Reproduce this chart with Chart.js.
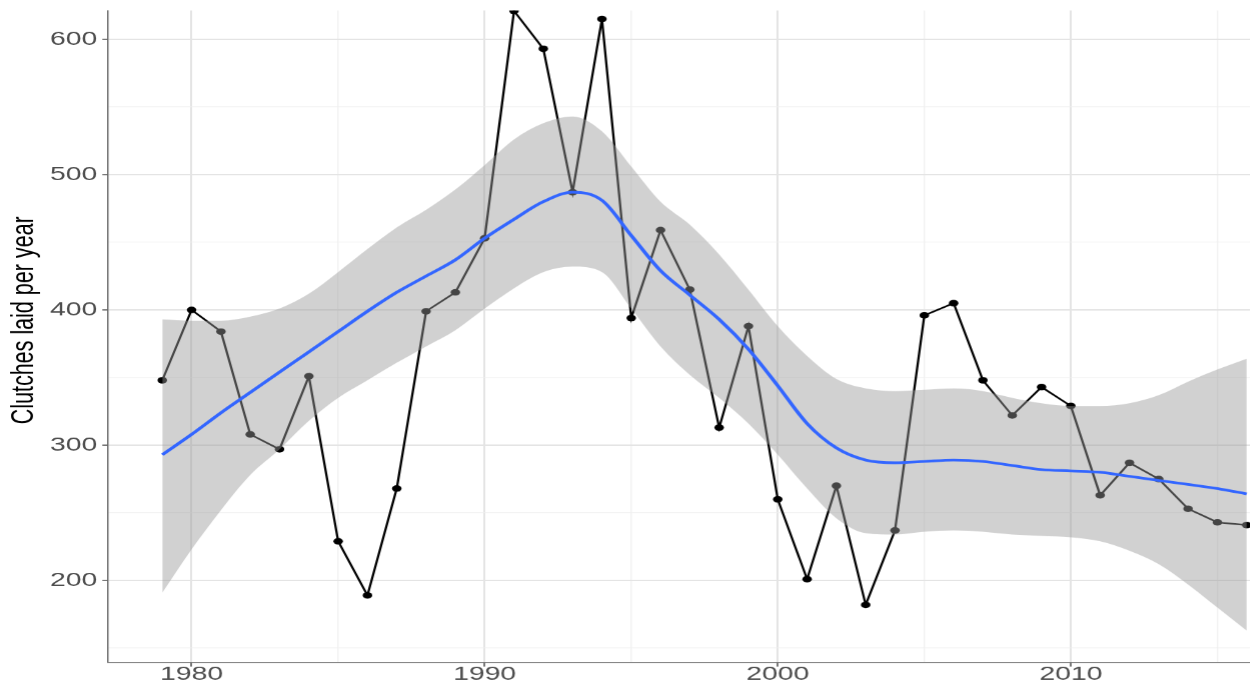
<!DOCTYPE html>
<html>
<head>
<meta charset="utf-8">
<title>Clutches laid per year</title>
<script src="https://cdn.jsdelivr.net/npm/chart.js@4.4.1/dist/chart.umd.min.js"></script>
<style>
    html, body { margin: 0; padding: 0; background: #fff; overflow: hidden; }
    /* the source figure is a ggplot export stretched sideways, so draw it narrow and stretch it;
       the canvas is a few px wider than the view because Chart.js keeps a small right gap */
    #wrap { position: absolute; left: 0; top: 0; width: 866px; height: 686px;
            transform: scaleX(1.4501); transform-origin: 0 0; }
</style>
</head>
<body>
<div id="wrap"><canvas id="clutchChart" width="866" height="686"></canvas></div>
<script>
const years = [
    1979, 1980, 1981, 1982, 1983, 1984, 1985, 1986, 1987, 1988,
    1989, 1990, 1991, 1992, 1993, 1994, 1995, 1996, 1997, 1998,
    1999, 2000, 2001, 2002, 2003, 2004, 2005, 2006, 2007, 2008,
    2009, 2010, 2011, 2012, 2013, 2014, 2015, 2016
];
const clutches = [
    348, 400, 384, 308, 297, 351, 229, 189, 268, 399,
    413, 453, 621, 593, 487, 615, 394, 459, 415, 313,
    388, 260, 201, 270, 182, 237, 396, 405, 348, 322,
    343, 329, 263, 287, 275, 253, 243, 241
];
// loess fit and its confidence band
const smoothFit = [
    293, 308, 324, 339, 354, 369, 384, 399, 413, 425,
    437, 453, 467, 480, 487, 481, 455, 429, 411, 393,
    371, 344, 316, 298, 289, 287, 288, 289, 288, 285,
    282, 281, 280, 277, 274, 271, 268, 264
];
const smoothLower = [
    191, 223, 252, 278, 297, 318, 335, 348, 361, 373,
    385, 401, 416, 428, 432, 428, 401, 373, 352, 335,
    316, 293, 268, 246, 235, 234, 236, 237, 236, 234,
    233, 232, 229, 222, 212, 197, 180, 163
];
const smoothUpper = [
    393, 392, 392, 395, 401, 412, 428, 445, 461, 474,
    489, 507, 526, 538, 543, 532, 506, 480, 463, 441,
    415, 388, 366, 349, 342, 340, 341, 342, 340, 335,
    331, 329, 329, 331, 337, 347, 356, 364
];
const xLabelYears = [1980, 1990, 2000, 2010];
const yLabelValues = [200, 300, 400, 500, 600];

const STRETCH = 1.4501;
const tickFont = { family: '"Liberation Sans", Arial, sans-serif', size: 19.5 };

const toPoints = values => years.map((year, i) => ({ x: year, y: values[i] }));

function gridColor(labels) {
    return ctx => (ctx.tick && labels.includes(ctx.tick.value)) ? '#e4e4e4' : '#efefef';
}
function gridWidth(labels) {
    return ctx => (ctx.tick && labels.includes(ctx.tick.value)) ? 1.4 : 0.8;
}
function tickMarkColor(labels) {
    return ctx => (ctx.tick && labels.includes(ctx.tick.value)) ? '#444' : 'rgba(0,0,0,0)';
}

const yTitlePlugin = {
    id: 'yTitle',
    afterDraw(chart) {
        const ctx = chart.ctx;
        ctx.save();
        ctx.translate(16.8, 320);
        ctx.rotate(-Math.PI / 2);
        ctx.font = '21.5px "Liberation Sans", Arial, sans-serif';
        ctx.fillStyle = '#000';
        ctx.textAlign = 'center';
        ctx.textBaseline = 'middle';
        ctx.fillText('Clutches laid per year', 0, 0);
        ctx.restore();
    }
};

new Chart(document.getElementById('clutchChart').getContext('2d'), {
    type: 'line',
    data: {
        datasets: [
            {
                label: 'Smooth',
                data: toPoints(smoothFit),
                borderColor: '#3366ff',
                borderWidth: 2.7,
                pointRadius: 0,
                cubicInterpolationMode: 'monotone',
                fill: false,
                order: 0
            },
            {
                label: 'Upper',
                data: toPoints(smoothUpper),
                borderWidth: 0,
                borderColor: 'rgba(0,0,0,0)',
                backgroundColor: 'rgba(153,153,153,0.45)',
                pointRadius: 0,
                cubicInterpolationMode: 'monotone',
                fill: '+1',
                order: 1
            },
            {
                label: 'Lower',
                data: toPoints(smoothLower),
                borderWidth: 0,
                borderColor: 'rgba(0,0,0,0)',
                pointRadius: 0,
                cubicInterpolationMode: 'monotone',
                fill: false,
                order: 1
            },
            {
                label: 'Clutches',
                data: toPoints(clutches),
                borderColor: '#000',
                borderWidth: 1.6,
                pointRadius: 3.3,
                pointBorderWidth: 0,
                pointBackgroundColor: '#000',
                tension: 0,
                fill: false,
                order: 2
            }
        ]
    },
    options: {
        responsive: false,
        devicePixelRatio: STRETCH,
        animation: false,
        layout: { padding: { top: 10.5, right: 0, bottom: 0, left: 0 } },
        plugins: {
            legend: { display: false },
            tooltip: { enabled: false }
        },
        scales: {
            x: {
                type: 'linear',
                min: 1977.15,
                max: 2016.14,
                border: { display: true, color: '#666', width: 1 },
                grid: {
                    color: gridColor(xLabelYears),
                    lineWidth: gridWidth(xLabelYears),
                    tickColor: tickMarkColor(xLabelYears),
                    tickLength: 4.3,
                    tickWidth: 1
                },
                ticks: {
                    stepSize: 5,
                    includeBounds: false,
                    autoSkip: false,
                    maxRotation: 0,
                    padding: -3.5,
                    color: '#4d4d4d',
                    font: tickFont,
                    callback: value => xLabelYears.includes(value) ? String(value) : ''
                },
                afterFit(scale) {
                    scale.height = 24.3;
                    scale.paddingLeft = 0;
                    scale.paddingRight = 0;
                }
            },
            y: {
                type: 'linear',
                min: 139.6,
                max: 621.3,
                border: { display: true, color: '#666', width: 1 },
                grid: {
                    color: gridColor(yLabelValues),
                    lineWidth: gridWidth(yLabelValues),
                    tickColor: tickMarkColor(yLabelValues),
                    tickLength: 4,
                    tickWidth: 1
                },
                ticks: {
                    stepSize: 50,
                    includeBounds: false,
                    autoSkip: false,
                    padding: 3.5,
                    color: '#4d4d4d',
                    font: tickFont,
                    callback: value => yLabelValues.includes(value) ? String(value) : ''
                },
                afterFit(scale) {
                    scale.width = 74.5;
                    scale.paddingTop = 0;
                    scale.paddingBottom = 0;
                }
            }
        }
    },
    plugins: [yTitlePlugin]
});
</script>
</body>
</html>
